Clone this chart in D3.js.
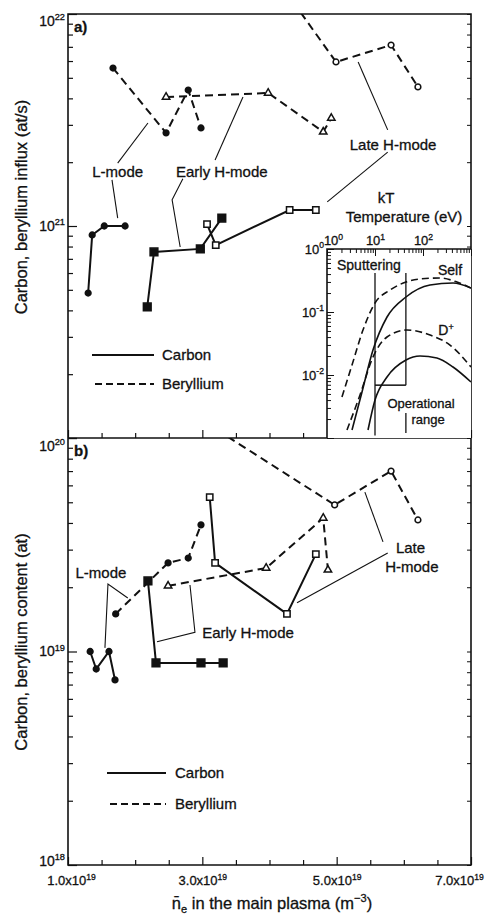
<!DOCTYPE html>
<html>
<head>
<meta charset="utf-8">
<script src="https://cdn.jsdelivr.net/npm/d3@7"></script>
<style>
  html, body { margin: 0; padding: 0; background: #fff; }
  svg { display: block; }
  text { font-family: "Liberation Sans", Arial, sans-serif; fill: #111; stroke: #111; stroke-width: 0.3; }
</style>
</head>
<body>
<svg id="fig" width="489" height="917"></svg>
<script>
// ---- line-averaged density, units of 1e19 m^-3 ----
const densityLabels = [1, 3, 5, 7];

// ---- (a) influx, at/s ----
const cLmodeN        = [1.30, 1.36, 1.54, 1.85];
const cLmodeInflux   = [4.83e20, 9.07e20, 1.0e21, 1.0e21];
const cEarlyN        = [2.18, 2.28, 2.97, 3.29];
const cEarlyInflux   = [4.15e20, 7.54e20, 7.8e20, 1.09e21];
const cLateN         = [3.07, 3.20, 4.30, 4.69];
const cLateInflux    = [1.02e21, 8.13e20, 1.19e21, 1.19e21];
const beLmodeN       = [1.67, 2.46, 2.79, 2.98];
const beLmodeInflux  = [5.56e21, 2.75e21, 4.38e21, 2.90e21];
const beEarlyN       = [2.46, 3.98, 4.80, 4.92];
const beEarlyInflux  = [4.06e21, 4.24e21, 2.78e21, 3.23e21];
const beLateN        = [2.89, 4.99, 5.81, 6.21];
const beLateInflux   = [5.07e22, 5.94e21, 7.14e21, 4.53e21];

// ---- (b) content, at ----
const cLmodeCN       = [1.33, 1.42, 1.61, 1.70];
const cLmodeContent  = [1.0e19, 8.28e18, 1.0e19, 7.36e18];
const cEarlyCN       = [2.19, 2.31, 2.98, 3.31];
const cEarlyContent  = [2.14e19, 8.84e18, 8.84e18, 8.84e18];
const cLateCN        = [3.11, 3.19, 4.26, 4.69];
const cLateContent   = [5.29e19, 2.60e19, 1.50e19, 2.86e19];
const beLmodeCN      = [1.71, 2.49, 2.79, 2.98];
const beLmodeContent = [1.50e19, 2.60e19, 2.74e19, 3.92e19];
const beEarlyCN      = [2.49, 3.95, 4.80, 4.87];
const beEarlyContent = [2.03e19, 2.46e19, 4.22e19, 2.41e19];
const beLateCN       = [2.89, 4.97, 5.81, 6.21];
const beLateContent  = [1.27e20, 4.86e19, 7.0e19, 4.13e19];

// ---- inset: sputtering yield vs kT (eV) ----
const selfBeE  = [2.05, 3.32, 5.62, 10, 20.5, 44.2, 86.6, 226, 511, 1000];
const selfBeY  = [0.00448, 0.0144, 0.0518, 0.139, 0.223, 0.299, 0.334, 0.347, 0.299, 0.240];
const selfCE   = [3.32, 5.36, 9.08, 17.8, 44.2, 140, 422, 1000];
const selfCY   = [0.00134, 0.00537, 0.0249, 0.0833, 0.173, 0.268, 0.289, 0.240];
const dBeE     = [2.61, 4.87, 9.08, 17.8, 46.4, 140, 365, 1000];
const dBeY     = [0.00134, 0.00482, 0.0193, 0.0401, 0.0518, 0.0431, 0.0299, 0.0134];
const dCE      = [7.15, 10, 17.8, 44.2, 86.6, 195, 422, 1000];
const dCY      = [0.00134, 0.00401, 0.00929, 0.0173, 0.0200, 0.0186, 0.0134, 0.00774];
const operationalRange = [10, 44];

// ---------------------------------------------------------------
const INK = "#111";
const DASH = "8,5";
const svg = d3.select("#fig");

const x = d3.scaleLinear().domain([1, 7]).range([68, 471]);
const yInflux = d3.scaleLog().domain([1e20, 1e22]).range([438, 14]);
const yContent = d3.scaleLog().domain([1e18, 1e20]).range([865, 438]);

function supText(sel, base, exp, fs) {
  sel.text(null);
  sel.append("tspan").text(base);
  sel.append("tspan").attr("font-size", fs * 0.66).attr("dy", -fs * 0.42).text(exp);
}

function isDecade(d) {
  const e = Math.log10(d);
  return Math.abs(e - Math.round(e)) < 1e-6;
}

function leftLogAxis(g, y, xPos, labelled, fs, len, topShift, bottomShift) {
  const a = g.append("g")
    .attr("transform", `translate(${xPos},0)`)
    .attr("color", INK)
    .call(d3.axisLeft(y).tickSizeInner(-len).tickSizeOuter(0).tickPadding(3).tickFormat(() => ""));
  a.select(".domain").remove();
  a.selectAll(".tick").each(function (d) {
    const t = d3.select(this);
    t.select("line").attr("stroke-width", 1.2);
    if (!isDecade(d)) return;
    const e = Math.round(Math.log10(d));
    t.select("line").attr("x2", len + 4);
    if (labelled.includes(e)) {
      const txt = t.select("text").attr("font-size", fs).attr("font-family", null);
      supText(txt, "10", String(e), fs);
      if (d === y.domain()[1]) txt.attr("transform", `translate(0,${topShift})`);
      if (d === y.domain()[0]) txt.attr("transform", `translate(0,${bottomShift})`);
    }
  });
}

function rightLogAxis(g, y, xPos) {
  const a = g.append("g")
    .attr("transform", `translate(${xPos},0)`)
    .attr("color", INK)
    .call(d3.axisRight(y).tickSizeInner(-4).tickSizeOuter(0).tickFormat(() => ""));
  a.select(".domain").remove();
  a.selectAll(".tick line").attr("stroke-width", 1);
}

function densityAxis(g, yPos, withLabels) {
  const a = g.append("g")
    .attr("transform", `translate(0,${yPos})`)
    .attr("color", INK)
    .call(d3.axisBottom(x).tickValues(d3.range(1, 7.001, 0.5)).tickSizeInner(-5).tickSizeOuter(0)
      .tickPadding(9).tickFormat(() => ""));
  a.select(".domain").remove();
  a.selectAll(".tick").each(function (d) {
    const t = d3.select(this);
    t.select("line").attr("stroke-width", 1.2);
    if (densityLabels.includes(d)) {
      t.select("line").attr("y2", -8);
      if (withLabels) {
        const txt = t.select("text").attr("font-size", 13).attr("font-family", null).attr("dy", "0.85em");
        supText(txt, d.toFixed(1) + "x10", "19", 13);
        if (d === 1) txt.attr("transform", "translate(3,0)");
        if (d === 7) txt.attr("transform", "translate(-12,0)");
      }
    }
  });
}

function drawSeries(g, y, series) {
  const line = d3.line().x(p => x(p[0])).y(p => y(p[1]));
  series.forEach(s => {
    const pts = d3.zip(s.n, s.v);
    g.append("path")
      .attr("d", line(pts))
      .attr("fill", "none")
      .attr("stroke", INK)
      .attr("stroke-width", 2)
      .attr("stroke-dasharray", s.dashed ? DASH : null);
  });
  series.forEach(s => {
    const sym = d3.symbol().type(s.symbol).size(s.size);
    g.selectAll(null).data(d3.zip(s.n, s.v)).join("path")
      .attr("d", sym)
      .attr("transform", p => `translate(${x(p[0])},${y(p[1])})`)
      .attr("fill", s.filled ? INK : "#fff")
      .attr("stroke", INK)
      .attr("stroke-width", 1.5);
  });
}

function drawLeaders(g, y, leaders, labels) {
  const line = d3.line().x(p => x(p[0])).y(p => y(p[1]));
  leaders.forEach(l => g.append("path").attr("d", line(l)).attr("fill", "none")
    .attr("stroke", INK).attr("stroke-width", 1.1));
  labels.forEach(l => g.append("text")
    .attr("x", x(l.n)).attr("y", y(l.v)).attr("dy", "0.35em")
    .attr("text-anchor", "middle").attr("font-size", 15).text(l.text));
}

function legend(g, x0, x1, tx, yc, yd) {
  g.append("line").attr("x1", x0).attr("x2", x1).attr("y1", yc).attr("y2", yc)
    .attr("stroke", INK).attr("stroke-width", 2);
  g.append("line").attr("x1", x0 + 3).attr("x2", x1).attr("y1", yd).attr("y2", yd)
    .attr("stroke", INK).attr("stroke-width", 2).attr("stroke-dasharray", "7,4");
  g.append("text").attr("x", tx).attr("y", yc).attr("dy", "0.35em").attr("font-size", 15).text("Carbon");
  g.append("text").attr("x", tx).attr("y", yd).attr("dy", "0.35em").attr("font-size", 15).text("Beryllium");
}

function seriesSet(cL, cLv, cE, cEv, cLt, cLtv, bL, bLv, bE, bEv, bLt, bLtv) {
  return [
    { n: cL,  v: cLv,  dashed: false, symbol: d3.symbolCircle,   size: 26, filled: true },
    { n: cE,  v: cEv,  dashed: false, symbol: d3.symbolSquare,   size: 60, filled: true },
    { n: cLt, v: cLtv, dashed: false, symbol: d3.symbolSquare,   size: 40, filled: false },
    { n: bL,  v: bLv,  dashed: true,  symbol: d3.symbolCircle,   size: 26, filled: true },
    { n: bE,  v: bEv,  dashed: true,  symbol: d3.symbolTriangle, size: 24, filled: false },
    { n: bLt, v: bLtv, dashed: true,  symbol: d3.symbolCircle,   size: 26, filled: false }
  ];
}

// ---- clip regions ----
const defs = svg.append("defs");
defs.append("clipPath").attr("id", "clipA").append("rect")
  .attr("x", 68).attr("y", 14).attr("width", 403).attr("height", 424);
defs.append("clipPath").attr("id", "clipB").append("rect")
  .attr("x", 68).attr("y", 438).attr("width", 403).attr("height", 427);

// ================= panel (a) =================
const gA = svg.append("g");
const plotA = gA.append("g").attr("clip-path", "url(#clipA)");
drawSeries(plotA, yInflux, seriesSet(
  cLmodeN, cLmodeInflux, cEarlyN, cEarlyInflux, cLateN, cLateInflux,
  beLmodeN, beLmodeInflux, beEarlyN, beEarlyInflux, beLateN, beLateInflux));

drawLeaders(gA, yInflux, [
  [[1.74, 1.98e21], [2.19, 3.06e21]],
  [[1.655, 1.65e21], [1.74, 1.09e21]],
  [[3.605, 4.06e21], [3.19, 2.05e21]],
  [[2.71, 1.67e21], [2.55, 1.33e21], [2.67, 7.96e20]],
  [[5.32, 5.94e21], [5.76, 2.84e21]],
  [[5.76, 2.23e21], [4.86, 1.30e21]]
], [
  { text: "L-mode", n: 1.74, v: 1.80e21 },
  { text: "Early H-mode", n: 3.29, v: 1.80e21 },
  { text: "Late H-mode", n: 5.84, v: 2.41e21 }
]);
legend(gA, 92, 154, 162, 355, 384);
gA.append("text").attr("x", 74).attr("y", 27).attr("dy", "0.35em")
  .attr("font-size", 15).attr("font-weight", "bold").text("a)");

leftLogAxis(gA, yInflux, 68, [21, 22], 14, 5, 7, 0);
rightLogAxis(gA, yInflux, 471);
densityAxis(gA, 438, false);

// ================= panel (b) =================
const gB = svg.append("g");
const plotB = gB.append("g").attr("clip-path", "url(#clipB)");
drawSeries(plotB, yContent, seriesSet(
  cLmodeCN, cLmodeContent, cEarlyCN, cEarlyContent, cLateCN, cLateContent,
  beLmodeCN, beLmodeContent, beEarlyCN, beEarlyContent, beLateCN, beLateContent));

drawLeaders(gB, yContent, [
  [[1.89, 1.78e19], [1.595, 2.07e19], [1.55, 1.04e19]],
  [[2.325, 1.11e19], [2.89, 1.23e19], [2.816, 2.05e19]],
  [[5.69, 3.26e19], [5.42, 5.58e19]],
  [[5.76, 2.89e19], [4.41, 1.69e19]]
], [
  { text: "L-mode", n: 1.49, v: 2.33e19 },
  { text: "Early H-mode", n: 3.68, v: 1.22e19 },
  { text: "Late", n: 6.10, v: 3.05e19 },
  { text: "H-mode", n: 6.12, v: 2.49e19 }
]);
legend(gB, 107, 166, 175, 773, 804);
gB.append("text").attr("x", 74).attr("y", 451).attr("dy", "0.35em")
  .attr("font-size", 15).attr("font-weight", "bold").text("b)");

leftLogAxis(gB, yContent, 68, [18, 19, 20], 14, 5, 8, -4);
rightLogAxis(gB, yContent, 471);
densityAxis(gB, 865, true);

// ---- frame ----
svg.append("path")
  .attr("d", `M68,14H471V865H68Z M68,438H471`)
  .attr("fill", "none").attr("stroke", INK).attr("stroke-width", 1.6);

// ---- axis titles ----
svg.append("text").attr("transform", "translate(21,207) rotate(-90)")
  .attr("text-anchor", "middle").attr("dy", "0.35em").attr("font-size", 16.5)
  .text("Carbon, beryllium influx (at/s)");
svg.append("text").attr("transform", "translate(21,642) rotate(-90)")
  .attr("text-anchor", "middle").attr("dy", "0.35em").attr("font-size", 16.5)
  .text("Carbon, beryllium content (at)");

const xt = svg.append("text").attr("x", 272).attr("y", 909).attr("text-anchor", "middle").attr("font-size", 16.5);
xt.append("tspan").text("n\u0304");
xt.append("tspan").attr("font-size", 11).attr("dy", 4).text("e");
xt.append("tspan").attr("dy", -4).text(" in the main plasma (m");
xt.append("tspan").attr("font-size", 11).attr("dy", -7).text("\u22123");
xt.append("tspan").attr("dy", 7).text(")");

// ================= inset: sputtering yield =================
const ix = d3.scaleLog().domain([1, 1000]).range([327, 471]);
const iy = d3.scaleLog().domain([1e-3, 1]).range([438, 249]);
const gI = svg.append("g");
gI.append("rect").attr("x", 327).attr("y", 249).attr("width", 144).attr("height", 189).attr("fill", "#fff");
defs.append("clipPath").attr("id", "clipI").append("rect")
  .attr("x", 327).attr("y", 249).attr("width", 144).attr("height", 189);

const plotI = gI.append("g").attr("clip-path", "url(#clipI)");
const curve = d3.line().x(p => ix(p[0])).y(p => iy(p[1])).curve(d3.curveMonotoneX);
[
  { e: selfBeE, y: selfBeY, dashed: true },
  { e: selfCE,  y: selfCY,  dashed: false },
  { e: dBeE,    y: dBeY,    dashed: true },
  { e: dCE,     y: dCY,     dashed: false }
].forEach(c => plotI.append("path")
  .attr("d", curve(d3.zip(c.e, c.y)))
  .attr("fill", "none").attr("stroke", INK).attr("stroke-width", 1.6)
  .attr("stroke-dasharray", c.dashed ? "7,4" : null));

// operational range markers
const vline = (e, y0, y1) => plotI.append("line")
  .attr("x1", ix(e)).attr("x2", ix(e)).attr("y1", iy(y0)).attr("y2", iy(y1))
  .attr("stroke", INK).attr("stroke-width", 1.3);
vline(operationalRange[0], 0.416, 0.0011);
vline(operationalRange[1], 0.416, 0.0069);
vline(operationalRange[1], 0.0025, 0.0012);
plotI.append("line")
  .attr("x1", ix(operationalRange[0])).attr("x2", ix(operationalRange[1]))
  .attr("y1", iy(0.0069)).attr("y2", iy(0.0069))
  .attr("stroke", INK).attr("stroke-width", 1.5);

// inset axes
const iLeft = gI.append("g").attr("transform", "translate(327,0)").attr("color", INK)
  .call(d3.axisLeft(iy).tickSizeInner(-4).tickSizeOuter(0).tickPadding(3).tickFormat(() => ""));
iLeft.select(".domain").remove();
iLeft.selectAll(".tick").each(function (d) {
  const t = d3.select(this);
  if (!isDecade(d)) return;
  const e = Math.round(Math.log10(d));
  t.select("line").attr("x2", 7);
  if (e > -3) supText(t.select("text").attr("font-size", 13).attr("font-family", null), "10", String(e), 13);
});
const iTop = gI.append("g").attr("transform", "translate(0,249)").attr("color", INK)
  .call(d3.axisTop(ix).tickSizeInner(-4).tickSizeOuter(0).tickPadding(4).tickFormat(() => ""));
iTop.select(".domain").remove();
iTop.selectAll(".tick").each(function (d) {
  const t = d3.select(this);
  if (!isDecade(d)) return;
  const e = Math.round(Math.log10(d));
  t.select("line").attr("y2", 7);
  if (e < 3) {
    const txt = t.select("text").attr("font-size", 13).attr("font-family", null);
    supText(txt, "10", String(e), 13);
    if (e === 0) txt.attr("transform", "translate(6,0)");
  }
});
gI.append("path").attr("d", "M327,438V249H471").attr("fill", "none")
  .attr("stroke", INK).attr("stroke-width", 1.6);

const itext = (s, tx, ty, fs, anchor) => gI.append("text").attr("x", tx).attr("y", ty)
  .attr("dy", "0.35em").attr("font-size", fs).attr("text-anchor", anchor || "middle").text(s);
itext("kT", 386, 198, 15);
itext("Temperature (eV)", 404, 217, 15);
itext("Sputtering", 337, 265, 14, "start");
itext("Self", 450, 270, 14);
const dl = itext("D", 446, 330, 14);
dl.append("tspan").attr("font-size", 9).attr("dy", -5).text("+");
itext("Operational", 421, 403, 13);
itext("range", 428, 419, 13);
</script>
</body>
</html>
